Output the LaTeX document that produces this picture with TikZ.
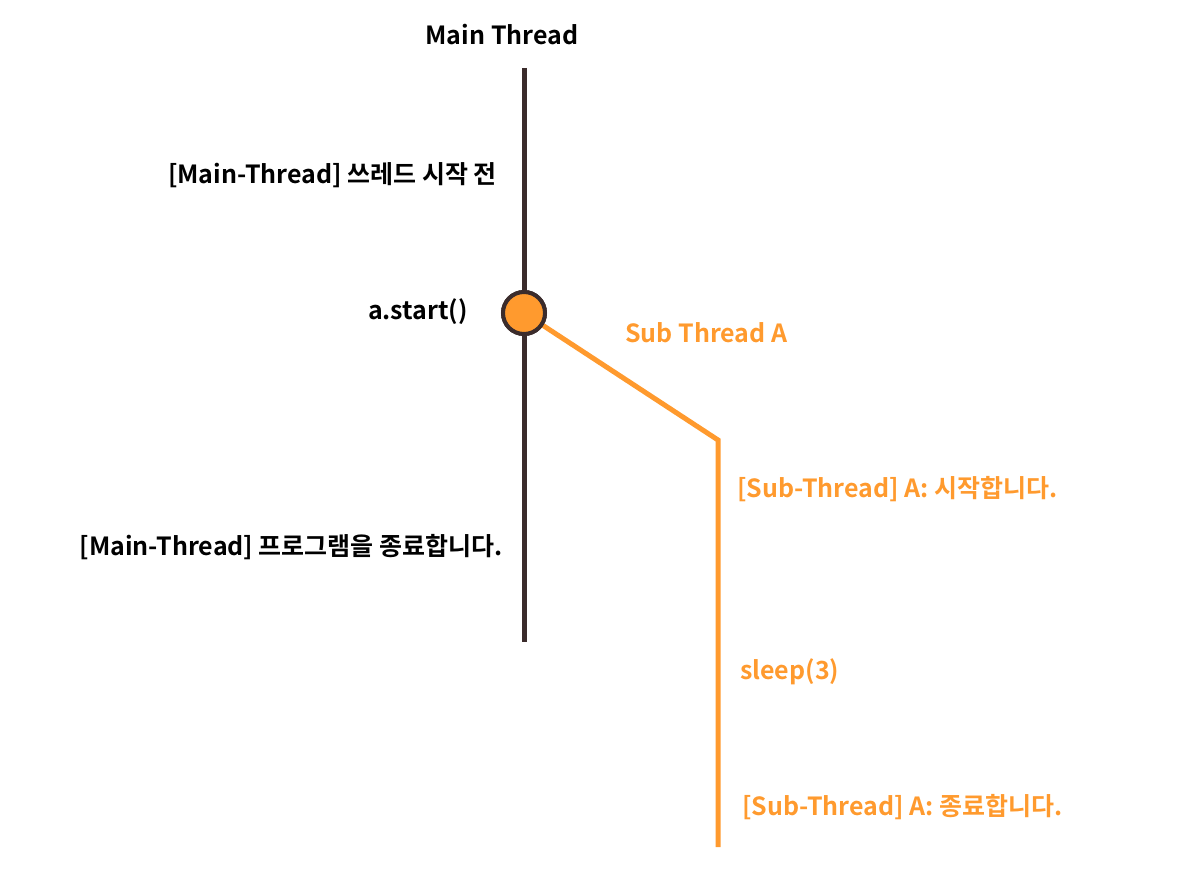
\documentclass[tikz,border=0pt]{standalone}
\usepackage{fontspec}
\setmainfont{Noto Sans CJK KR}[BoldFont={Noto Sans CJK KR Bold}]
\usepackage{xcolor}
\usetikzlibrary{positioning}
\definecolor{threadbrown}{HTML}{3B2C2C}
\definecolor{threadorange}{HTML}{FF9A2E}

\tikzset{
  mainline/.style={draw=threadbrown, line width=5pt},
  subline/.style={draw=threadorange, line width=5pt},
  mainlabel/.style={font=\fontsize{25}{28}\selectfont\bfseries, text=black, inner sep=0pt},
  sublabel/.style={font=\fontsize{25}{28}\selectfont\bfseries, text=threadorange, inner sep=0pt}
}

\begin{document}
\begin{tikzpicture}[x=1pt,y=-1pt]
\useasboundingbox (0,0) rectangle (1179,885);

\path
  (524,68) coordinate (mainTop)
  (524,642) coordinate (mainBottom)
  (718,440) coordinate (subBend)
  (718,847) coordinate (subEnd);

% main thread
\draw[mainline] (mainTop) -- (mainBottom);
\node[circle, fill=threadorange, draw=threadbrown, line width=4pt, minimum size=42pt, inner sep=0pt] (startDot) at (524,313) {};

% sub thread
\draw[subline] (startDot) -- (subBend) -- (subEnd);
\node[circle, fill=threadorange, draw=threadbrown, line width=4pt, minimum size=42pt, inner sep=0pt] at (startDot) {};

\node[mainlabel] (mainTitle) at (502,35) {Main Thread};
\node[mainlabel, anchor=east] (beforeStart) at (497,175) {[Main-Thread] 쓰레드 시작 전};
\node[mainlabel, anchor=east] (startCall) at (468,312) {a.start()};
\node[mainlabel, anchor=east] (mainEnd) at (503,547) {[Main-Thread] 프로그램을 종료합니다.};

\node[sublabel, anchor=west] (subTitle) at (625,333) {Sub Thread A};
\node[sublabel, anchor=west] (subStart) at (737,489) {[Sub-Thread] A: 시작합니다.};
\node[sublabel, anchor=west] (subSleep) at (740,672) {sleep(3)};
\node[sublabel, anchor=west] (subFinish) at (742,807) {[Sub-Thread] A: 종료합니다.};

\end{tikzpicture}
\end{document}
